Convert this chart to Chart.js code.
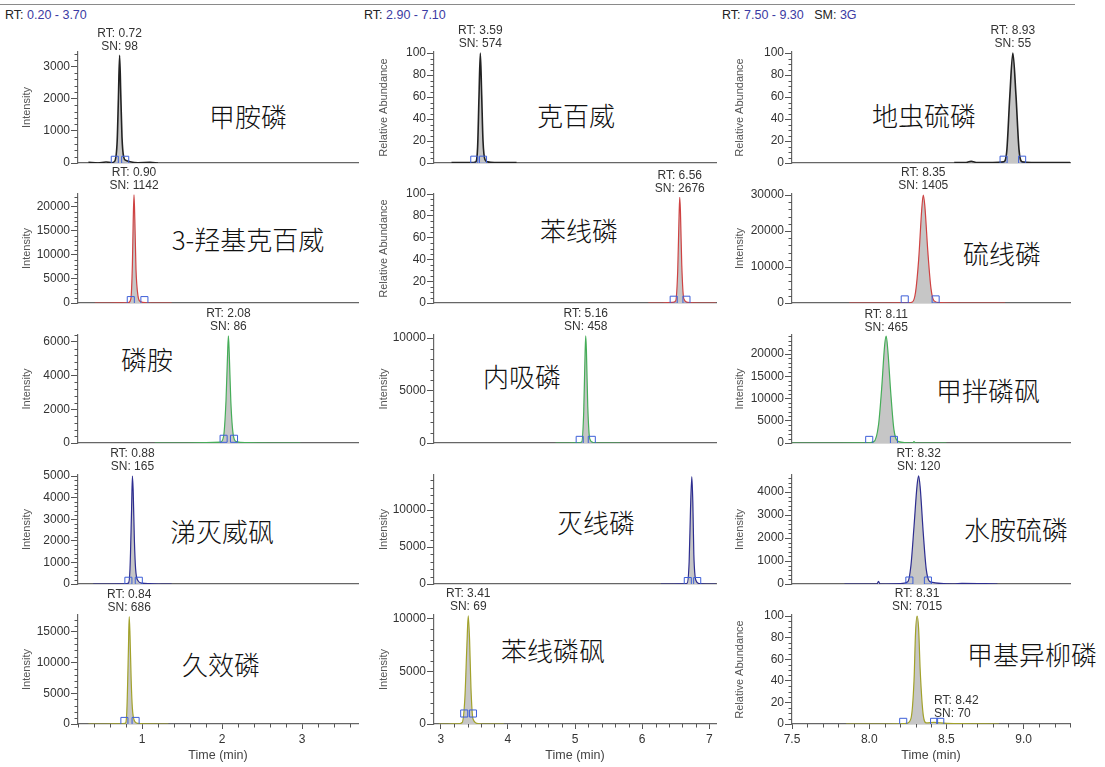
<!DOCTYPE html>
<html>
<head>
<meta charset="utf-8">
<script src="https://cdn.jsdelivr.net/npm/chart.js@4.4.1/dist/chart.umd.min.js"></script>
<style>
  body { margin: 0; background: #fff; }
  #page { position: relative; width: 1105px; height: 767px; overflow: hidden; font-family: 'Liberation Sans', Arial, sans-serif; }
  #page canvas { position: absolute; }
  #rule { position: absolute; left: 0; top: 4px; width: 1075px; border-top: 1.5px solid #8a8a8a; }
  .hdr { position: absolute; top: 8px; font-size: 12.5px; color: #222; white-space: pre; }
  .hdr b { font-weight: normal; color: #3b3ba3; }
  .name { position: absolute; transform: translate(-50%, -50%); font-family: 'Noto Sans CJK SC', sans-serif; font-weight: 300; font-size: 26px; color: #111; white-space: nowrap; }
</style>
</head>
<body>
<div id="page">
  <div id="rule"></div>
  <div class="hdr" style="left:5px">RT: <b>0.20 - 3.70</b></div>
  <div class="hdr" style="left:364px">RT: <b>2.90 - 7.10</b></div>
  <div class="hdr" style="left:722px">RT: <b>7.50 - 9.30</b>   SM: <b>3G</b></div>
</div>
<script>
// 每列的保留时间范围 (min)
const timeRanges = [[0.2, 3.7], [2.9, 7.1], [7.5, 9.3]];

// 15 个化合物，按行排列（每行 3 个）
const compoundNames = ['甲胺磷', '克百威', '地虫硫磷', '3-羟基克百威', '苯线磷', '硫线磷',
  '磷胺', '内吸磷', '甲拌磷砜', '涕灭威砜', '灭线磷', '水胺硫磷', '久效磷', '苯线磷砜', '甲基异柳磷'];
const peakRT = [0.72, 3.59, 8.93, 0.90, 6.56, 8.35, 2.08, 5.16, 8.11, 0.88, null, 8.32, 0.84, 3.41, 8.31];
const peakSN = [98, 574, 55, 1142, 2676, 1405, 86, 458, 465, 165, null, 120, 686, 69, 7015];
const yTitles = ['Intensity', 'Relative Abundance', 'Relative Abundance',
  'Intensity', 'Relative Abundance', 'Intensity',
  'Intensity', 'Intensity', 'Intensity',
  'Intensity', 'Intensity', 'Intensity',
  'Intensity', 'Intensity', 'Relative Abundance'];
const yMax = [3450, 101, 101, 22700, 100, 30300, 6400, 10290, 24270, 5050, 14730, 4740, 17770, 10380, 101];
const yMajor = [1000, 20, 20, 5000, 20, 10000, 2000, 5000, 5000, 1000, 5000, 1000, 5000, 5000, 20];
const yMinor = [200, 5, 5, 1000, 5, 2000, 400, 1000, 1000, 200, 1000, 200, 1000, 1000, 5];
const xMajor = [1, 1, 0.5];
const xMinor = [0.2, 0.2, 0.1];

// 色谱峰
const methamidophosTime = [0.33, 0.45, 0.55, 0.62, 0.66, 0.69, 0.705, 0.72, 0.735, 0.75, 0.77, 0.80, 0.85, 0.95, 1.1, 1.2];
const methamidophosSignal = [20, 0, 30, 10, 60, 700, 2000, 3350, 2100, 800, 200, 80, 40, 10, 20, 0];
const carbofuranTime = [3.16, 3.3, 3.45, 3.52, 3.55, 3.57, 3.59, 3.61, 3.63, 3.66, 3.70, 3.8, 3.95, 4.13];
const carbofuranSignal = [0.5, 0.5, 0.5, 1, 15, 60, 100, 62, 20, 3, 1, 0.5, 0.5, 0.5];
const fonofosTime = [8.55, 8.62, 8.66, 8.70, 8.80, 8.87, 8.89, 8.91, 8.93, 8.95, 8.97, 8.99, 9.05, 9.15, 9.3];
const fonofosSignal = [0.5, 0.5, 1.5, 0.5, 0.5, 1, 10, 60, 100, 62, 12, 1, 0.5, 0.5, 0.5];
const hydroxyCarbofuranTime = [0.41, 0.6, 0.75, 0.83, 0.86, 0.88, 0.89, 0.90, 0.91, 0.925, 0.95, 0.98, 1.05, 1.2, 1.37];
const hydroxyCarbofuranSignal = [0, 0, 20, 60, 800, 8000, 17000, 22500, 17500, 7000, 1500, 300, 50, 0, 0];
const fenamiphosTime = [6.09, 6.3, 6.45, 6.5, 6.53, 6.55, 6.56, 6.57, 6.59, 6.62, 6.68, 6.85, 7.1];
const fenamiphosSignal = [0, 0, 0.5, 2, 30, 80, 97, 85, 35, 4, 0.5, 0, 0];
const cadusafosTime = [7.87, 8.1, 8.24, 8.28, 8.30, 8.32, 8.34, 8.35, 8.36, 8.38, 8.40, 8.42, 8.46, 8.6, 8.88];
const cadusafosSignal = [0, 0, 30, 300, 3000, 12000, 26000, 30000, 27000, 14000, 4000, 600, 100, 0, 0];
const phosphamidonTime = [1.16, 1.5, 1.8, 1.98, 2.02, 2.05, 2.07, 2.08, 2.09, 2.11, 2.14, 2.18, 2.3, 2.6, 2.98];
const phosphamidonSignal = [0, 0, 20, 50, 400, 2500, 5300, 6350, 5400, 2500, 500, 80, 20, 0, 0];
const demetonTime = [4.71, 4.9, 5.05, 5.1, 5.13, 5.15, 5.16, 5.17, 5.19, 5.22, 5.27, 5.4, 5.67];
const demetonSignal = [0, 0, 30, 100, 3000, 8500, 10200, 8800, 3500, 400, 50, 0, 0];
const phorateSulfoneTime = [7.5, 7.8, 7.98, 8.03, 8.06, 8.08, 8.10, 8.11, 8.12, 8.14, 8.16, 8.19, 8.28, 8.29, 8.30, 8.5];
const phorateSulfoneSignal = [0, 0, 20, 300, 4000, 12000, 22000, 24000, 21000, 11000, 3000, 300, 0, 300, 0, 0];
const aldoxycarbTime = [0.39, 0.6, 0.78, 0.83, 0.85, 0.87, 0.88, 0.89, 0.905, 0.92, 0.95, 1.0, 1.1, 1.25, 1.37];
const aldoxycarbSignal = [0, 0, 10, 40, 700, 3500, 5000, 4300, 2000, 700, 150, 40, 20, 0, 0];
const ethoprophosTime = [6.28, 6.45, 6.6, 6.67, 6.70, 6.72, 6.74, 6.755, 6.77, 6.80, 6.85, 6.95, 7.1];
const ethoprophosSignal = [0, 0, 20, 100, 3000, 10000, 14500, 11000, 4000, 500, 60, 0, 0];
const isocarbophosTime = [7.84, 8.0, 8.05, 8.06, 8.07, 8.2, 8.25, 8.27, 8.29, 8.31, 8.32, 8.33, 8.35, 8.37, 8.40, 8.55, 8.6, 8.83];
const isocarbophosSignal = [0, 0, 0, 120, 0, 20, 100, 800, 2500, 4300, 4700, 4200, 2200, 600, 80, 0, 30, 0];
const monocrotophosTime = [0.33, 0.55, 0.72, 0.79, 0.81, 0.83, 0.84, 0.85, 0.865, 0.88, 0.91, 0.95, 1.05, 1.2, 1.33];
const monocrotophosSignal = [0, 0, 20, 100, 2000, 12000, 17500, 14500, 7000, 2500, 400, 100, 20, 0, 0];
const fenamiphosSulfoneTime = [2.97, 3.1, 3.25, 3.32, 3.36, 3.39, 3.41, 3.43, 3.45, 3.48, 3.55, 3.7, 3.94];
const fenamiphosSulfoneSignal = [0, 0, 20, 150, 2500, 7500, 10300, 8000, 3500, 500, 50, 0, 0];
const isofenphosMethylTime = [7.85, 8.1, 8.24, 8.27, 8.29, 8.30, 8.31, 8.32, 8.33, 8.35, 8.37, 8.42, 8.5, 8.84];
const isofenphosMethylSignal = [0, 0, 0.5, 5, 40, 85, 100, 88, 50, 8, 1, 1.5, 0.5, 0];

// 积分起止标记（蓝色方框）
const markerTimes = [[0.66, 0.79], [3.50, 3.63], [8.87, 8.99], [0.86, 1.03], [6.47, 6.66], [8.23, 8.43],
  [2.02, 2.15], [5.07, 5.25], [8.00, 8.16], [0.83, 0.96], [6.68, 6.82], [8.26, 8.38],
  [0.78, 0.92], [3.35, 3.48], [8.22, 8.42, 8.46]];
const markerLevels = [100, 3, 3, 600, 3, 1000, 250, 300, 700, 150, 400, 150, 500, 1000, 2];

// 甲基异柳磷的小峰
const minorPeakRT = 8.42;
const minorPeakSN = 70;
const minorPeakLevel = 1.5;

const traceTimes = [methamidophosTime, carbofuranTime, fonofosTime, hydroxyCarbofuranTime, fenamiphosTime,
  cadusafosTime, phosphamidonTime, demetonTime, phorateSulfoneTime, aldoxycarbTime, ethoprophosTime,
  isocarbophosTime, monocrotophosTime, fenamiphosSulfoneTime, isofenphosMethylTime];
const traceSignals = [methamidophosSignal, carbofuranSignal, fonofosSignal, hydroxyCarbofuranSignal, fenamiphosSignal,
  cadusafosSignal, phosphamidonSignal, demetonSignal, phorateSulfoneSignal, aldoxycarbSignal, ethoprophosSignal,
  isocarbophosSignal, monocrotophosSignal, fenamiphosSulfoneSignal, isofenphosMethylSignal];

// 布局
const COL_PLOT_LEFT = [78, 434, 792];
const COL_PLOT_RIGHT = [358, 716, 1070];
const COL_TITLE_X = [27, 384, 740];
const ROW_PLOT_TOP = [52, 194, 335, 475, 615];
const ROW_PLOT_BOTTOM = [163, 303, 443, 584, 724];
const LABEL_ROOM = 34;
const NAME_POS = [[248, 115], [576, 114], [924, 114], [248, 238], [579, 229], [1002, 252],
  [147, 358], [522, 375], [988, 389], [222, 530], [596, 521], [1016, 528],
  [221, 663], [553, 649], [1032, 653]];
const ROW_COLORS = ['#222222', '#cf4242', '#45ad58', '#2d2d90', '#a2a22a'];

Chart.defaults.font.family = "'Liberation Sans', Arial, sans-serif";
Chart.defaults.font.size = 12;
Chart.defaults.color = '#333';

// 次刻度线
const minorTicks = {
  id: 'minorTicks',
  afterDraw(chart, args, opts) {
    const { ctx, chartArea, scales } = chart;
    ctx.save();
    ctx.strokeStyle = '#555';
    ctx.lineWidth = 1;
    ctx.beginPath();
    const ys = scales.y;
    const n = Math.floor(ys.max / opts.y + 1e-6);
    for (let k = 1; k <= n; k++) {
      const v = k * opts.y;
      const r = v / opts.yMajor;
      if (Math.abs(r - Math.round(r)) < 1e-6) continue;
      const py = Math.round(ys.getPixelForValue(v)) + 0.5;
      ctx.moveTo(chartArea.left - 3.5, py);
      ctx.lineTo(chartArea.left, py);
    }
    if (opts.x) {
      const xs = scales.x;
      const k0 = Math.ceil(xs.min / opts.x - 1e-6), k1 = Math.floor(xs.max / opts.x + 1e-6);
      for (let k = k0; k <= k1; k++) {
        const v = k * opts.x;
        const r = v / opts.xMajor;
        if (Math.abs(r - Math.round(r)) < 1e-6) continue;
        const px = Math.round(xs.getPixelForValue(v)) + 0.5;
        ctx.moveTo(px, chartArea.bottom);
        ctx.lineTo(px, chartArea.bottom + 3.5);
      }
    }
    ctx.stroke();
    ctx.restore();
  }
};

// 峰顶 RT / SN 标注
const peakLabels = {
  id: 'peakLabels',
  afterDraw(chart, args, opts) {
    const { ctx, scales } = chart;
    ctx.save();
    ctx.font = "12px 'Liberation Sans', Arial, sans-serif";
    ctx.fillStyle = '#333';
    ctx.textBaseline = 'middle';
    opts.items.forEach((it) => {
      const x = scales.x.getPixelForValue(it.rt);
      const y = scales.y.getPixelForValue(it.level);
      ctx.textAlign = it.align || 'center';
      ctx.fillText('RT: ' + it.rt.toFixed(2), x, y - 22);
      ctx.fillText('SN: ' + it.sn, x, y - 9);
    });
    ctx.restore();
  }
};

Chart.register(minorTicks, peakLabels);

const page = document.getElementById('page');

compoundNames.forEach((name, i) => {
  const div = document.createElement('div');
  div.className = 'name';
  div.textContent = name;
  div.style.left = NAME_POS[i][0] + 'px';
  div.style.top = NAME_POS[i][1] + 'px';
  page.appendChild(div);
});

// 主刻度：从 0 起按步长取值
function majorTicks(step, max) {
  const out = [];
  for (let k = 0; k * step <= max + 1e-9; k++) out.push({ value: Math.round(k * step * 1000) / 1000 });
  return out;
}

for (let i = 0; i < 15; i++) {
  const row = Math.floor(i / 3), col = i % 3;
  const isBottom = row === 4;
  const left = COL_TITLE_X[col] - 7;
  const top = ROW_PLOT_TOP[row] - LABEL_ROOM;
  const bottom = isBottom ? 767 : ROW_PLOT_BOTTOM[row] + 10;
  const right = COL_PLOT_RIGHT[col] + 14;
  const xAxisHeight = bottom - ROW_PLOT_BOTTOM[row];
  const yAxisWidth = COL_PLOT_LEFT[col] - left;

  const canvas = document.createElement('canvas');
  canvas.width = right - left;
  canvas.height = bottom - top;
  canvas.style.left = left + 'px';
  canvas.style.top = top + 'px';
  canvas.style.width = (right - left) + 'px';
  canvas.style.height = (bottom - top) + 'px';
  page.appendChild(canvas);

  const times = traceTimes[i], signals = traceSignals[i];
  const trace = times.map((t, k) => ({ x: t, y: signals[k] }));
  const marks = markerTimes[i].map((t) => ({ x: t, y: markerLevels[i] }));

  const labelItems = [];
  if (peakRT[i] !== null) {
    labelItems.push({ rt: peakRT[i], sn: peakSN[i], level: Math.max(...signals) });
  }
  if (i === 14) {
    labelItems.push({ rt: minorPeakRT, sn: minorPeakSN, level: minorPeakLevel, align: 'left' });
  }

  new Chart(canvas, {
    type: 'line',
    data: {
      datasets: [
        {
          data: marks,
          showLine: false,
          pointStyle: 'rect',
          pointRadius: 5,
          pointBorderWidth: 1,
          pointBorderColor: '#3d5fd8',
          pointBackgroundColor: 'rgba(0,0,0,0)'
        },
        {
          data: trace,
          borderColor: ROW_COLORS[row],
          borderWidth: row === 0 ? 1.6 : 1.2,
          backgroundColor: '#c6c6c6',
          fill: 'origin',
          pointRadius: 0,
          cubicInterpolationMode: 'monotone'
        }
      ]
    },
    options: {
      responsive: false,
      animation: false,
      devicePixelRatio: 1,
      events: [],
      layout: { padding: { top: LABEL_ROOM, right: 14, left: 0, bottom: 0 } },
      plugins: {
        legend: { display: false },
        tooltip: { enabled: false },
        minorTicks: { y: yMinor[i], yMajor: yMajor[i], x: isBottom ? xMinor[col] : null, xMajor: xMajor[col] },
        peakLabels: { items: labelItems }
      },
      scales: {
        x: {
          type: 'linear',
          min: timeRanges[col][0],
          max: timeRanges[col][1],
          afterFit: (s) => { s.height = xAxisHeight; },
          border: { display: true, color: '#666', width: 1.2 },
          grid: isBottom
            ? { display: true, drawOnChartArea: false, drawTicks: true, tickLength: 5, tickColor: '#555' }
            : { display: false },
          ticks: {
            display: isBottom,
            stepSize: xMajor[col],
            includeBounds: false,
            autoSkip: false,
            maxRotation: 0,
            padding: 3,
            color: '#333',
            callback: (v) => (col === 2 ? Number(v).toFixed(1) : String(Math.round(v)))
          },
          title: {
            display: isBottom,
            text: 'Time (min)',
            color: '#444',
            font: { size: 12.5 },
            padding: { top: 0, bottom: 4 }
          }
        },
        y: {
          min: 0,
          max: yMax[i],
          afterFit: (s) => { s.width = yAxisWidth; },
          afterBuildTicks: (s) => { s.ticks = majorTicks(yMajor[i], yMax[i]); },
          border: { display: true, color: '#666', width: 1.2 },
          grid: { display: true, drawOnChartArea: false, drawTicks: true, tickLength: 7, tickColor: '#555' },
          ticks: {
            autoSkip: false,
            padding: 1,
            color: '#333',
            callback: (v) => String(v)
          },
          title: {
            display: true,
            text: yTitles[i],
            color: '#555',
            font: { size: 11 },
            padding: { top: 0, bottom: 0 }
          }
        }
      }
    }
  });
}
</script>
</body>
</html>
